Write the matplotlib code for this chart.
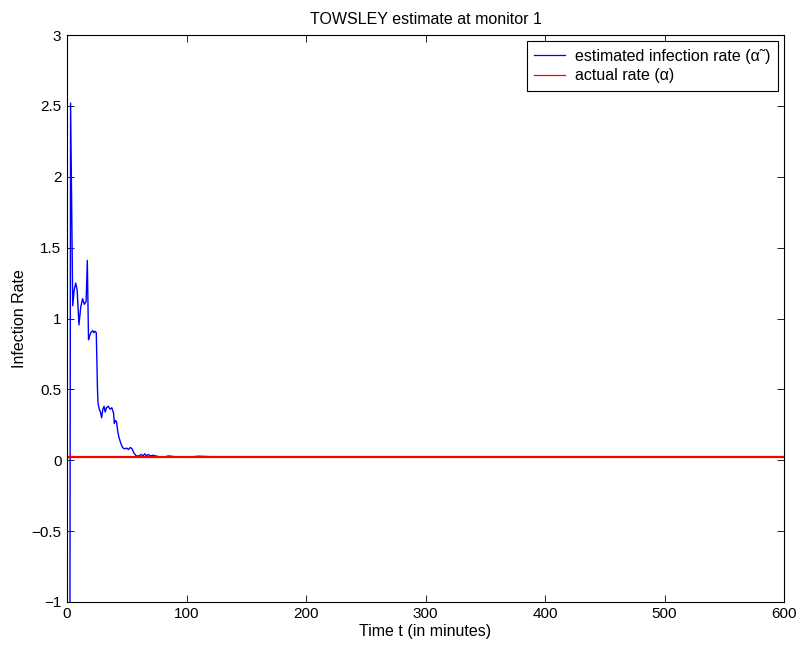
import numpy as np
import matplotlib
matplotlib.use('Agg')
import matplotlib.pyplot as plt

plt.rcParams['font.family'] = ['Liberation Sans', 'DejaVu Sans']

# Estimated infection rate at monitor 1 (minutes, rate)
t_est = [2.4, 3.0, 4.8, 6.0, 7.3, 8.5, 10.0, 11.5, 13.0, 14.5, 16.0, 17.0, 18.0,
         19.0, 20.0, 21.5, 22.5, 23.5, 24.5, 25.5, 26.0, 27.0, 28.0, 29.0, 30.0,
         31.0, 32.0, 33.0, 34.5, 36.0, 37.5, 39.0, 39.6, 40.5, 41.5, 42.5, 43.5,
         45.0, 46.5, 48.0, 50.0, 51.5, 53.0, 54.5, 56.0, 58.0, 60.0, 62.0, 63.5,
         65.0, 66.5, 68.0, 70.0, 72.0, 75.0, 80.0, 85.0, 90.0, 100.0, 110.0,
         120.0, 600.0]
rate_est = [-1.5, 2.52, 1.09, 1.20, 1.25, 1.20, 0.955, 1.08, 1.14, 1.10, 1.12, 1.41,
            0.85, 0.88, 0.90, 0.915, 0.90, 0.91, 0.90, 0.50, 0.40, 0.36, 0.34, 0.30,
            0.36, 0.38, 0.34, 0.37, 0.38, 0.36, 0.37, 0.33, 0.26, 0.28, 0.27, 0.20,
            0.16, 0.12, 0.09, 0.08, 0.085, 0.075, 0.09, 0.08, 0.05, 0.03, 0.03, 0.04,
            0.03, 0.045, 0.03, 0.04, 0.03, 0.035, 0.028, 0.02, 0.03, 0.025, 0.02,
            0.028, 0.025, 0.025]

actual_rate = 0.025
t_range = [0, 600]

fig = plt.figure(figsize=(8, 6.5), dpi=100)
ax = fig.add_axes([0.08375, 0.074, 0.89625, 0.872])

ax.plot(t_est, rate_est, color=(0, 0, 1), linewidth=1.0,
        label='estimated infection rate (α\u02dc)')
ax.plot(t_range, [actual_rate, actual_rate], color=(1, 0, 0), linewidth=1.6,
        label='actual rate (α)')

ax.set_xlim(0, 600)
ax.set_ylim(-1, 3)
ax.set_xticks(np.arange(0, 601, 100))
ax.set_yticks(np.arange(-1, 3.01, 0.5))
ax.set_yticklabels(['\u22121', '\u22120.5', '0', '0.5', '1', '1.5', '2', '2.5', '3'])
ax.tick_params(direction='in', length=5, width=0.6, top=True, right=True,
               labelsize=11, pad=4)
for sp in ax.spines.values():
    sp.set_linewidth(0.8)

ax.set_title('TOWSLEY estimate at monitor 1', fontsize=11.5, pad=8)
ax.set_xlabel('Time t (in minutes)', fontsize=11.5, labelpad=2)
ax.set_ylabel('Infection Rate', fontsize=11.5, labelpad=3)

leg = ax.legend(loc='upper right', fontsize=11.5, fancybox=False, framealpha=1,
                edgecolor='black', borderaxespad=0.4, handlelength=1.9,
                handletextpad=0.65, borderpad=0.45, labelspacing=0.3)
leg.get_frame().set_linewidth(0.8)
for line in leg.get_lines():
    line.set_linewidth(0.9)

fig.savefig('out.png', dpi=100)
